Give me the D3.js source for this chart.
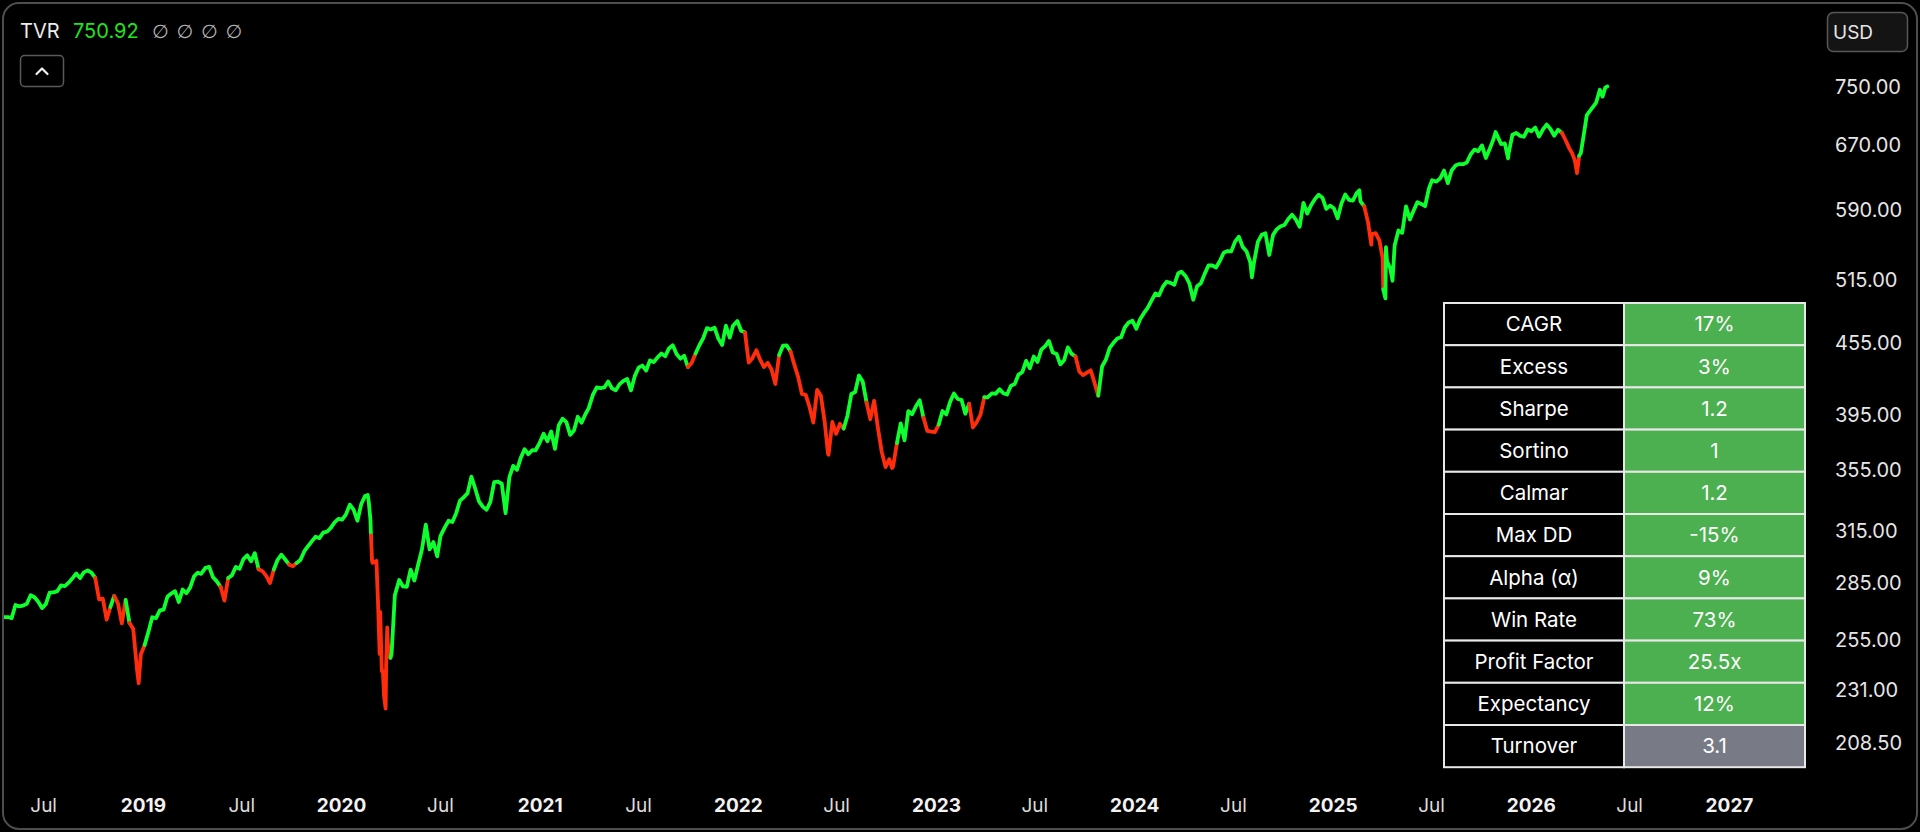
<!DOCTYPE html>
<html>
<head>
<meta charset="utf-8">
<script src="https://cdn.jsdelivr.net/npm/d3@7"></script>
<style>
	html, body { margin: 0; padding: 0; background: #000; }
	svg { display: block; font-family: Inter, "Noto Sans", "DejaVu Sans", sans-serif; }
</style>
</head>
<body>
<div id="chart"></div>
<script>
// weekly closes, one array per year ([month-day, close])
const c2018 = [['04-20',266.6],['04-27',266.6],['05-04',266.0],['05-11',272.9],['05-18',272.2],['05-25',272.6],['06-01',273.6],['06-08',278.2],['06-15',277.1],['06-22',274.7],['06-29',271.3],['07-06',273.4],['07-13',279.6],['07-20',279.7],['07-27',280.4],['08-03',283.6],['08-10',283.2],['08-17',285.1],['08-24',287.5],['08-31',290.3],['09-07',287.6],['09-14',290.9],['09-21',292.0],['09-28',290.7],['10-05',287.8],['10-12',276.0],['10-19',276.3],['10-26',265.3],['11-02',271.9],['11-09',277.8],['11-16',273.7],['11-23',263.3],['11-30',275.7],['12-07',263.6],['12-14',260.5],['12-21',240.7],['12-24',234.3],['12-28',247.8]];
const c2019 = [['01-04',252.4],['01-11',259.0],['01-18',266.5],['01-25',266.0],['02-01',270.1],['02-08',270.5],['02-15',277.4],['02-22',279.1],['03-01',280.4],['03-08',274.5],['03-15',281.3],['03-22',279.3],['03-29',282.5],['04-05',288.6],['04-12',290.7],['04-18',290.0],['04-26',293.4],['05-03',294.0],['05-10',288.1],['05-17',285.8],['05-24',282.8],['05-31',275.3],['06-07',287.7],['06-14',289.3],['06-21',294.0],['06-28',293.0],['07-05',298.5],['07-12',300.7],['07-19',297.2],['07-26',302.0],['08-02',292.6],['08-09',291.6],['08-16',288.9],['08-23',284.9],['08-30',292.5],['09-06',298.1],['09-13',301.1],['09-20',298.3],['09-27',295.4],['10-04',294.4],['10-11',296.3],['10-18',298.0],['10-25',303.0],['11-01',306.1],['11-08',309.0],['11-15',311.8],['11-22',311.0],['11-29',314.3],['12-06',314.9],['12-13',317.3],['12-20',320.7],['12-27',322.9]];
const c2020 = [['01-03',322.4],['01-10',325.7],['01-17',332.0],['01-24',328.8],['01-31',321.7],['02-07',332.2],['02-14',337.6],['02-19',338.3],['02-21',333.5],['02-24',322.4],['02-25',312.6],['02-27',297.5],['02-28',296.3],['03-06',297.5],['03-09',274.2],['03-12',248.1],['03-13',269.3],['03-16',239.9],['03-18',240.0],['03-20',228.8],['03-23',223.0],['03-24',243.2],['03-26',261.2],['03-27',253.4],['04-01',246.2],['04-03',248.2],['04-09',278.2],['04-17',286.6],['04-24',283.0],['05-01',282.8],['05-08',292.4],['05-15',286.3],['05-22',295.4],['05-29',304.3],['06-05',319.3],['06-12',304.2],['06-19',308.6],['06-26',300.1],['07-02',312.2],['07-10',317.6],['07-17',321.7],['07-24',320.9],['07-31',326.5],['08-07',334.6],['08-14',336.8],['08-21',339.5],['08-28',350.6],['09-04',342.6],['09-11',334.1],['09-18',330.7],['09-25',328.7],['10-02',333.8],['10-09',346.9],['10-16',347.3],['10-23',345.8],['10-30',326.5],['11-06',350.2],['11-13',358.1],['11-20',355.3],['11-27',363.7],['12-04',369.9],['12-11',366.3],['12-18',369.2],['12-24',369.0],['12-31',373.9]];
const c2021 = [['01-08',381.3],['01-15',375.7],['01-22',382.9],['01-29',370.1],['02-05',387.7],['02-12',392.6],['02-19',390.0],['02-26',380.4],['03-05',383.6],['03-12',394.1],['03-19',389.5],['03-26',396.0],['04-01',400.6],['04-09',411.5],['04-16',417.3],['04-23',416.7],['04-30',417.3],['05-07',422.1],['05-14',416.6],['05-21',414.9],['05-28',420.0],['06-04',422.6],['06-11',424.3],['06-18',414.9],['06-25',426.6],['07-02',433.7],['07-09',435.5],['07-16',431.3],['07-23',439.9],['07-30',438.5],['08-06',442.5],['08-13',445.9],['08-20',443.4],['08-27',450.3],['09-03',453.1],['09-10',445.4],['09-17',441.4],['09-24',443.9],['10-01',434.2],['10-08',437.9],['10-15',445.9],['10-22',453.1],['10-29',459.3],['11-05',468.5],['11-12',467.3],['11-19',468.9],['11-26',459.0],['12-03',453.4],['12-10',470.7],['12-17',459.9],['12-23',470.6],['12-31',475.0]];
const c2022 = [['01-07',466.1],['01-14',464.7],['01-21',438.0],['01-28',442.0],['02-04',448.7],['02-11',440.5],['02-18',434.2],['02-25',437.8],['03-04',432.2],['03-11',420.1],['03-18',444.5],['03-25',452.7],['04-01',452.9],['04-08',447.6],['04-14',437.8],['04-22',426.0],['04-29',412.0],['05-06',411.3],['05-13',401.7],['05-20',389.6],['05-27',415.3],['06-03',410.5],['06-10',389.8],['06-16',366.7],['06-17',365.9],['06-24',390.1],['07-01',381.2],['07-08',388.7],['07-15',385.1],['07-22',395.1],['07-29',412.0],['08-05',413.5],['08-12',427.1],['08-19',422.1],['08-26',405.3],['09-02',392.2],['09-09',406.6],['09-16',385.6],['09-23',368.0],['09-30',357.2],['10-07',362.8],['10-12',356.6],['10-14',357.6],['10-21',374.3],['10-28',389.0],['11-04',376.4],['11-11',398.5],['11-18',396.0],['11-25',402.3],['12-02',406.9],['12-09',393.3],['12-16',383.3],['12-23',382.9],['12-30',382.4]];
const c2023 = [['01-06',388.1],['01-13',398.5],['01-20',395.9],['01-27',405.7],['02-03',412.4],['02-10',408.0],['02-17',407.3],['02-24',396.4],['03-03',404.2],['03-10',385.9],['03-17',390.0],['03-24',395.8],['03-31',409.4],['04-06',409.2],['04-14',412.5],['04-21',412.2],['04-28',415.9],['05-05',412.6],['05-12',411.6],['05-19',418.6],['05-26',420.0],['06-02',427.9],['06-09',429.9],['06-16',439.5],['06-23',433.2],['06-30',443.3],['07-07',438.6],['07-14',449.3],['07-21',452.2],['07-28',456.9],['08-04',446.8],['08-11',445.7],['08-18',436.5],['08-25',440.0],['09-01',451.2],['09-08',445.5],['09-15',443.4],['09-22',430.4],['09-29',427.5],['10-06',429.5],['10-13',431.5],['10-20',421.2],['10-27',410.7],['11-03',434.7],['11-10',440.6],['11-17',450.8],['11-24',455.3],['12-01',459.1],['12-08',460.2],['12-15',469.3],['12-22',473.7],['12-29',475.3]];
const c2024 = [['01-05',467.9],['01-12',476.7],['01-19',482.4],['01-26',487.4],['02-02',494.4],['02-09',501.2],['02-16',499.5],['02-23',507.9],['03-01',512.9],['03-08',511.7],['03-15',509.8],['03-22',521.2],['03-28',523.1],['04-05',518.4],['04-12',510.9],['04-19',495.2],['04-26',508.3],['05-03',511.3],['05-10',520.8],['05-17',529.5],['05-24',529.4],['05-31',527.4],['06-07',534.0],['06-14',542.8],['06-21',544.5],['06-28',544.2],['07-05',554.6],['07-12',560.0],['07-19',549.0],['07-26',544.4],['08-02',532.9],['08-05',517.4],['08-09',533.0],['08-16',554.3],['08-23',562.1],['08-30',563.7],['09-06',540.4],['09-13',562.0],['09-20',568.3],['09-27',571.5],['10-04',573.0],['10-11',579.6],['10-18',584.6],['10-25',579.0],['11-01',571.0],['11-08',598.2],['11-15',585.8],['11-22',595.5],['11-29',602.6],['12-06',607.8],['12-13',604.3],['12-20',591.2],['12-27',595.0]];
const c2025 = [['01-03',592.0],['01-10',580.5],['01-17',597.6],['01-24',608.0],['01-31',601.8],['02-07',600.8],['02-14',609.7],['02-19',613.0],['02-21',599.9],['02-28',594.2],['03-07',575.9],['03-13',551.4],['03-14',562.8],['03-21',564.0],['03-28',555.7],['04-03',536.7],['04-04',505.3],['04-08',496.5],['04-09',548.6],['04-11',533.9],['04-17',526.4],['04-21',513.9],['04-25',550.6],['05-02',566.8],['05-09',564.3],['05-16',594.2],['05-23',579.1],['05-30',589.4],['06-06',599.1],['06-13',597.0],['06-20',594.3],['06-27',614.9],['07-03',625.3],['07-11',623.6],['07-18',627.6],['07-25',637.1],['08-01',621.7],['08-08',637.2],['08-15',643.4],['08-22',645.3],['08-29',645.1],['09-05',647.2],['09-12',657.4],['09-19',663.7],['09-26',661.8],['10-03',669.2],['10-10',653.0],['10-17',664.4],['10-24',677.3],['10-28',687.0],['10-31',682.1],['11-07',671.0],['11-14',671.9],['11-20',652.5],['11-21',659.0],['11-28',683.4],['12-05',685.7],['12-12',681.8],['12-19',680.6],['12-26',690.3]];
const c2026 = [['01-02',688.0],['01-09',693.0],['01-16',681.0],['01-23',690.0],['01-30',697.0],['02-06',691.0],['02-13',682.0],['02-20',690.0],['02-27',686.0],['03-06',676.0],['03-13',665.0],['03-18',659.0],['03-23',650.0],['03-27',634.0],['03-31',656.0],['04-03',659.0],['04-09',686.0],['04-14',710.0],['04-24',720.0],['05-01',727.0],['05-08',746.0],['05-13',736.0],['05-18',749.0],['05-22',750.92]];
const years = [[2018, c2018], [2019, c2019], [2020, c2020], [2021, c2021], [2022, c2022], [2023, c2023], [2024, c2024], [2025, c2025], [2026, c2026]];

// stretches where the line is drawn red
const redRanges = [
	['2018-10-08', '2018-11-03'], ['2018-11-12', '2018-11-28'], ['2018-12-04', '2019-01-03'],
	['2019-05-27', '2019-06-04'], ['2019-08-04', '2019-08-30'], ['2019-09-30', '2019-10-08'],
	['2020-02-25', '2020-04-01'], ['2021-09-28', '2021-10-13'],
	['2022-01-14', '2022-03-15'], ['2022-04-06', '2022-07-14'], ['2022-08-25', '2022-10-21'],
	['2022-12-08', '2023-01-04'], ['2023-03-03', '2023-03-28'], ['2023-09-18', '2023-10-29'],
	['2025-02-26', '2025-04-06'], ['2026-02-26', '2026-03-30']
];

const yTicks = [208.5, 231, 255, 285, 315, 355, 395, 455, 515, 590, 670, 750];

const metricNames = ['CAGR', 'Excess', 'Sharpe', 'Sortino', 'Calmar', 'Max DD', 'Alpha (α)', 'Win Rate', 'Profit Factor', 'Expectancy', 'Turnover'];
const metricValues = ['17%', '3%', '1.2', '1', '1.2', '-15%', '9%', '73%', '25.5x', '12%', '3.1'];
const metricNeutral = ['Turnover'];

const ticker = 'TVR';
const lastValue = '750.92';
const currency = 'USD';

// dimension stuff
const width = 1920;
const height = 832;
const colorUp = '#0eff2e';
const colorDown = '#ff2d0c';

const parse = d3.timeParse('%Y-%m-%d');
const series = years.flatMap(([yr, rows]) => rows.map(([md, v]) => ({ date: parse(`${yr}-${md}`), value: v })));
const red = redRanges.map(r => r.map(parse));

// scales
const scaleX = d3.scaleTime()
	.domain([new Date(2019, 0, 1), new Date(2027, 0, 1)])
	.range([143, 1729]);
const scaleY = d3.scaleLog()
	.domain([208.5, 750])
	.range([743, 87]);

const $svg = d3.select('#chart').append('svg')
	.attr('width', width)
	.attr('height', height);

$svg.append('rect')
	.attr('width', width).attr('height', height)
	.attr('fill', '#000');

$svg.append('clipPath').attr('id', 'plot-clip')
	.append('rect')
	.attr('x', 4).attr('y', 4)
	.attr('width', width - 8).attr('height', height - 8);

// split the line into runs of one colour
function isRed(a, b) {
	const mid = new Date((+a.date + +b.date) / 2);
	return red.some(([s, e]) => mid >= s && mid < e);
}
const runs = [];
for (let i = 1; i < series.length; i++) {
	const c = isRed(series[i - 1], series[i]) ? colorDown : colorUp;
	const last = runs[runs.length - 1];
	if (last && last.color === c) last.points.push(series[i]);
	else runs.push({ color: c, points: [series[i - 1], series[i]] });
}

const line = d3.line()
	.x(d => scaleX(d.date))
	.y(d => scaleY(d.value));

$svg.append('g')
	.attr('class', 'g-vis')
	.attr('clip-path', 'url(#plot-clip)')
	.selectAll('path')
	.data(runs)
	.join('path')
	.attr('d', d => line(d.points))
	.attr('fill', 'none')
	.attr('stroke', d => d.color)
	.attr('stroke-width', 3.8)
	.attr('stroke-linejoin', 'round')
	.attr('stroke-linecap', 'round');

// y axis
const $yAxis = $svg.append('g')
	.attr('class', 'g-axis')
	.attr('transform', 'translate(1835, 0)')
	.call(d3.axisRight(scaleY).tickValues(yTicks).tickFormat(d3.format('.2f')).tickSize(0).tickPadding(0));
$yAxis.select('.domain').remove();
$yAxis.selectAll('text')
	.attr('fill', '#e6e6e6')
	.attr('font-size', 20)
	.attr('font-family', 'Inter, sans-serif');

// x axis
const xTicks = d3.timeMonth.every(6).range(new Date(2018, 6, 1), new Date(2027, 0, 2));
const $xAxis = $svg.append('g')
	.attr('class', 'g-axis')
	.attr('transform', 'translate(0, 786)')
	.call(d3.axisBottom(scaleX).tickValues(xTicks)
		.tickFormat(d => d.getMonth() === 0 ? d3.timeFormat('%Y')(d) : 'Jul')
		.tickSize(0).tickPadding(13));
$xAxis.select('.domain').remove();
$xAxis.selectAll('text')
	.attr('fill', d => d.getMonth() === 0 ? '#f2f2f2' : '#dcdcdc')
	.attr('font-weight', d => d.getMonth() === 0 ? 700 : 400)
	.attr('font-size', 19)
	.attr('font-family', 'Inter, sans-serif');

// metrics table
const tableX = 1444;
const tableY = 303;
const colW = [180, 181];
const rowH = 42.2;
const $table = $svg.append('g').attr('class', 'g-table');
const $rows = $table.selectAll('g')
	.data(metricNames)
	.join('g')
	.attr('transform', (d, i) => `translate(${tableX}, ${tableY + i * rowH})`);

$rows.append('rect')
	.attr('width', colW[0]).attr('height', rowH)
	.attr('fill', '#000').attr('stroke', '#e8e8e8').attr('stroke-width', 2);
$rows.append('rect')
	.attr('x', colW[0])
	.attr('width', colW[1]).attr('height', rowH)
	.attr('fill', d => metricNeutral.includes(d) ? '#787b86' : '#4caf50')
	.attr('stroke', '#e8e8e8').attr('stroke-width', 2);
$rows.append('text')
	.attr('x', colW[0] / 2).attr('y', rowH / 2)
	.attr('dy', '0.36em')
	.attr('text-anchor', 'middle')
	.attr('fill', '#fff')
	.attr('font-size', 20.5)
	.text(d => d);
$rows.append('text')
	.attr('x', colW[0] + colW[1] / 2).attr('y', rowH / 2)
	.attr('dy', '0.36em')
	.attr('text-anchor', 'middle')
	.attr('fill', '#fff')
	.attr('font-size', 20.5)
	.text((d, i) => metricValues[i]);

// header
const $head = $svg.append('g').attr('class', 'g-head');
$head.append('text')
	.attr('x', 20).attr('y', 38)
	.attr('fill', '#ececec').attr('font-size', 20)
	.text(ticker);
$head.append('text')
	.attr('x', 73).attr('y', 38)
	.attr('fill', '#1ee61e').attr('font-size', 20)
	.text(lastValue);
$head.selectAll('.na')
	.data([152, 176.5, 201, 225.5])
	.join('text')
	.attr('class', 'na')
	.attr('x', d => d).attr('y', 38)
	.attr('fill', '#b4b4b4').attr('font-size', 19)
	.attr('font-family', '"DejaVu Sans", sans-serif')
	.text('∅');

// collapse button
$head.append('rect')
	.attr('x', 20.5).attr('y', 55.5)
	.attr('width', 43).attr('height', 31).attr('rx', 4)
	.attr('fill', 'none').attr('stroke', '#595959').attr('stroke-width', 1.5);
$head.append('path')
	.attr('d', 'M36.5,74 L42,68.5 L47.5,74')
	.attr('fill', 'none').attr('stroke', '#f0f0f0').attr('stroke-width', 2.2)
	.attr('stroke-linecap', 'round').attr('stroke-linejoin', 'round');

// currency box
$head.append('rect')
	.attr('x', 1827.5).attr('y', 12.5)
	.attr('width', 80).attr('height', 39).attr('rx', 6)
	.attr('fill', '#141414').attr('stroke', '#575757').attr('stroke-width', 1.5);
$head.append('text')
	.attr('x', 1833).attr('y', 39)
	.attr('fill', '#e6e6e6').attr('font-size', 19)
	.text(currency);

// outer frame
$svg.append('rect')
	.attr('x', 3).attr('y', 3)
	.attr('width', width - 6).attr('height', height - 6)
	.attr('rx', 16)
	.attr('fill', 'none').attr('stroke', '#4d4d4d').attr('stroke-width', 2);
</script>
</body>
</html>
